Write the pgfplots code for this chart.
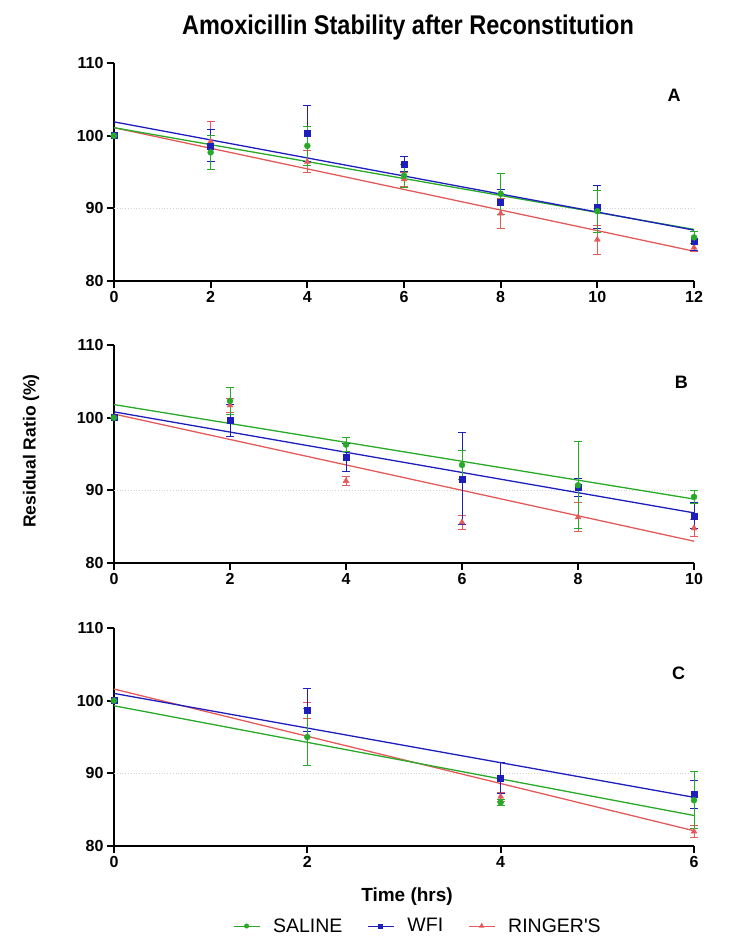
\documentclass[border=0pt]{standalone}
\usepackage{pgfplots}
\pgfplotsset{compat=1.18}
\usepackage{pgfplotstable}
\usepackage{fontspec}
\setmainfont{Liberation Sans}
\definecolor{cg}{RGB}{40,170,40}
\definecolor{cb}{RGB}{30,30,190}
\definecolor{cr}{RGB}{228,90,90}

% Panel A
\pgfplotstableread{
x y e
0 100 0
2 97.7 2.3
4 98.6 2.7
6 94.5 1.6
8 92.0 2.8
10 89.6 2.9
12 86.0 0.8
}\Asal
\pgfplotstableread{
x y e
0 100 0
2 98.6 2.2
4 100.3 3.8
6 96.1 1.0
8 90.9 1.7
10 90.2 2.9
12 85.5 1.3
}\Awfi
\pgfplotstableread{
x y e
0 100 0
2 99.2 2.7
4 96.4 1.5
6 94.0 1.0
8 89.3 2.0
10 85.7 2.0
12 84.6 0.6
}\Arin
% Panel B
\pgfplotstableread{
x y e
0 100 0
2 102.3 1.8
4 96.3 1.0
6 93.5 2.0
8 90.7 6.0
10 89.1 0.9
}\Bsal
\pgfplotstableread{
x y e
0 100 0
2 99.6 2.2
4 94.5 1.9
6 91.6 6.3
8 90.4 1.3
10 86.5 1.8
}\Bwfi
\pgfplotstableread{
x y e
0 100 0
2 101.7 1.0
4 91.3 0.6
6 85.6 1.0
8 86.3 2.0
10 84.8 1.2
}\Brin
% Panel C
\pgfplotstableread{
x y e
0 100 0
2 95.0 3.9
4 86.0 0.4
6 86.3 3.9
}\Csal
\pgfplotstableread{
x y e
0 100 0
2 98.7 3.0
4 89.4 2.1
6 87.1 1.9
}\Cwfi
\pgfplotstableread{
x y e
0 100 0
2 98.7 1.1
4 86.8 0.6
6 82.0 0.8
}\Crin

\tikzset{letter/.style={font=\fontsize{18}{18}\selectfont\bfseries}}
\pgfplotsset{
  panel/.style={
    scale only axis, width=580pt, height=218pt,
    xmin=0, ymin=80, ymax=110, ytick={80,90,100,110},
    axis x line=bottom, axis y line=left,
    axis line style={line width=2.6pt, -},
    tick align=outside, major tick length=7pt,
    tick style={line width=2.2pt, black},
    tick label style={font=\fontsize{16}{16}\selectfont\bfseries},
    /pgf/number format/assume math mode=true,
    clip=false,
  },
  err/.style={
    error bars/y dir=both, error bars/y explicit,
    error bars/error bar style={line width=0.9pt},
    error bars/error mark options={rotate=90, mark size=4pt, line width=0.9pt}},
  sal/.style={forget plot, cg, only marks, mark=*, mark size=3pt, err},
  wfi/.style={forget plot, cb, only marks, mark=square*, mark size=3pt, err},
  rin/.style={forget plot, cr, only marks, mark=triangle*, mark size=3.4pt, err},
  fit/.style={line width=1.3pt, forget plot},
  grid90/.style={gray!35, dotted, line width=0.8pt, forget plot},
}

\begin{document}
\begin{tikzpicture}
\useasboundingbox (0,0) rectangle (753pt,-952pt);

\node[font=\fontsize{23.5}{24}\selectfont\bfseries] at (408pt,-28pt) {\scalebox{1}[1.15]{Amoxicillin Stability after Reconstitution}};
\node[rotate=90, font=\fontsize{17.5}{18}\selectfont\bfseries] at (31pt,-451pt) {Residual Ratio (\%)};
\node[font=\fontsize{19}{19}\selectfont\bfseries] at (407pt,-897pt) {Time (hrs)};

% Panel A
\begin{axis}[panel, at={(114pt,-281pt)}, anchor=south west, xmax=12, xtick={0,2,...,12}]
\addplot[grid90] coordinates {(0,90) (12,90)};
\addplot[fit, cr] coordinates {(0,101.1) (12,84.1)};
\addplot[fit, cg] coordinates {(0,101.1) (12,87.1)};
\addplot[fit, cb] coordinates {(0,101.9) (12,87.0)};
\addplot[rin] table[x=x, y=y, y error=e] {\Arin};
\addplot[wfi] table[x=x, y=y, y error=e] {\Awfi};
\addplot[sal] table[x=x, y=y, y error=e] {\Asal};
\node[letter] at (axis cs:11.59,105.6) {A};
\end{axis}

% Panel B
\begin{axis}[panel, at={(114pt,-563pt)}, anchor=south west, xmax=10, xtick={0,2,...,10}]
\addplot[grid90] coordinates {(0,90) (10,90)};
\addplot[fit, cr] coordinates {(0,100.5) (10,83.0)};
\addplot[fit, cb] coordinates {(0,100.8) (10,86.9)};
\addplot[fit, cg] coordinates {(0,101.8) (10,88.8)};
\addplot[rin] table[x=x, y=y, y error=e] {\Brin};
\addplot[wfi] table[x=x, y=y, y error=e] {\Bwfi};
\addplot[sal] table[x=x, y=y, y error=e] {\Bsal};
\node[letter] at (axis cs:9.78,104.8) {B};
\end{axis}

% Panel C
\begin{axis}[panel, at={(114pt,-846pt)}, anchor=south west, xmax=6, xtick={0,2,4,6},
  legend columns=3,
  legend style={draw=none, fill=none, at={(0.524,-0.367)}, anchor=center,
    font=\fontsize{19.5}{20}\selectfont,
    /tikz/every odd column/.append style={column sep=11pt},
    /tikz/every even column/.append style={column sep=23pt}},
  legend image code/.code={\draw[mark repeat=2, mark phase=2, #1] plot coordinates {(0pt,0pt) (13pt,0pt) (26pt,0pt)};}
]
\addplot[grid90] coordinates {(0,90) (6,90)};
\addplot[fit, cr] coordinates {(0,101.6) (6,82.1)};
\addplot[fit, cg] coordinates {(0,99.3) (6,84.2)};
\addplot[fit, cb] coordinates {(0,101.0) (6,86.7)};
\addplot[rin] table[x=x, y=y, y error=e] {\Crin};
\addplot[wfi] table[x=x, y=y, y error=e] {\Cwfi};
\addplot[sal] table[x=x, y=y, y error=e] {\Csal};
\node[letter] at (axis cs:5.84,103.8) {C};
\addlegendimage{cg, line width=1pt, mark=*, mark size=2pt}
\addlegendentry{SALINE}
\addlegendimage{cb, line width=1pt, mark=square*, mark size=2pt}
\addlegendentry{WFI}
\addlegendimage{cr, line width=1pt, mark=triangle*, mark size=2.2pt}
\addlegendentry{RINGER\textquotesingle S}
\end{axis}
\end{tikzpicture}
\end{document}
